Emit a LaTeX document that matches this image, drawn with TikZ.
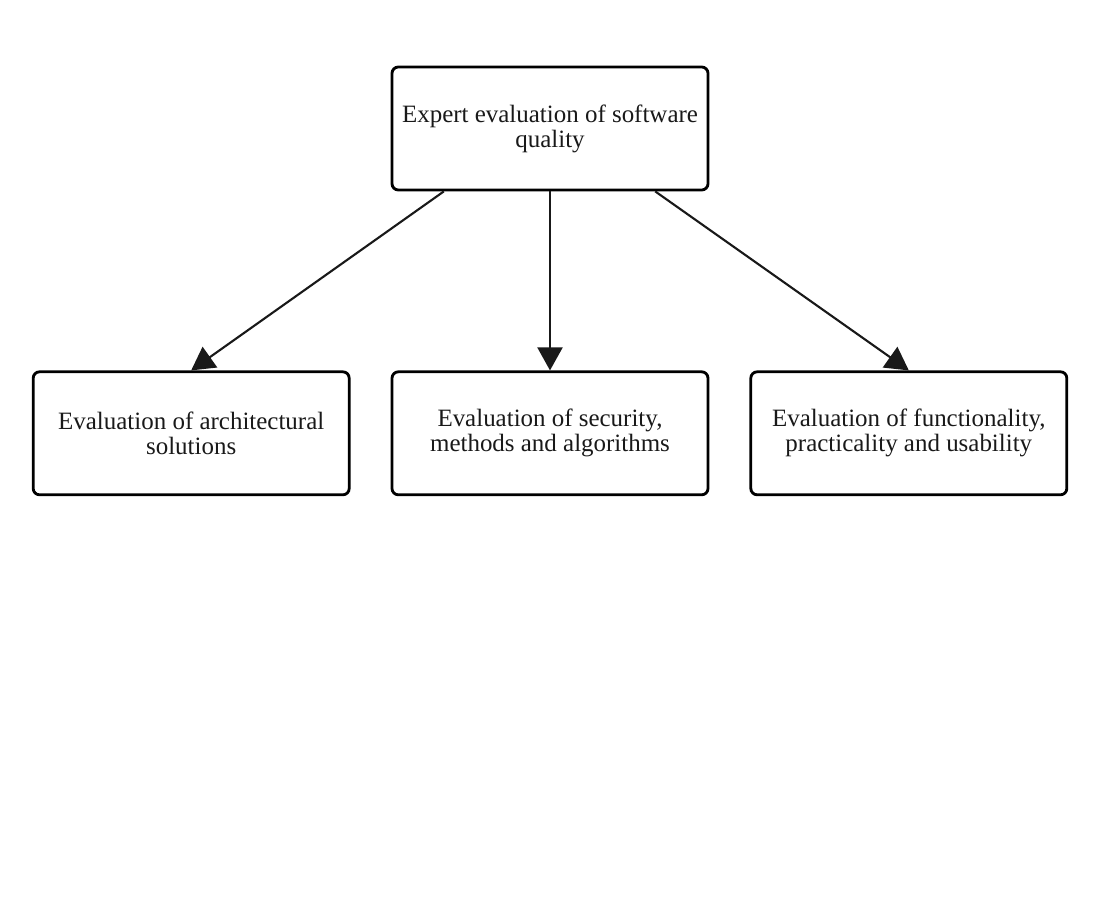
\documentclass[tikz,border=0pt]{standalone}
\usepackage{fontspec}
\setmainfont{Liberation Serif}
\usepackage{tikz}
\usetikzlibrary{arrows.meta,positioning,calc}

\tikzset{
  evalbox/.style={draw, line width=0.8pt, rounded corners=1.8pt, minimum width=3.16cm,
    minimum height=1.23cm, align=center, inner sep=1pt, text=black!90,
    font=\fontsize{7.1}{7.1}\selectfont},
  evalarrow/.style={line width=0.6pt, draw=black!90, -{Triangle[length=2.3mm,width=2.5mm]}}
}

\begin{document}
\begin{tikzpicture}
  \useasboundingbox (0,0) rectangle (11,9);
  \node[evalbox] (top) at (5.5,7.715) {Expert evaluation of software\\quality};
  \node[evalbox, below=1.79cm of top] (mid) {Evaluation of security,\\methods and algorithms};
  \node[evalbox, left=0.4cm of mid] (arch) {Evaluation of architectural\\solutions};
  \node[evalbox, right=0.4cm of mid] (func) {Evaluation of functionality,\\practicality and usability};
  % arrows from the top box
  \draw[evalarrow] ($(top.south west)!0.167!(top.south east)$) -- (arch.north);
  \draw[evalarrow] (top.south) -- (mid.north);
  \draw[evalarrow] ($(top.south west)!0.83!(top.south east)$) -- (func.north);
\end{tikzpicture}
\end{document}
